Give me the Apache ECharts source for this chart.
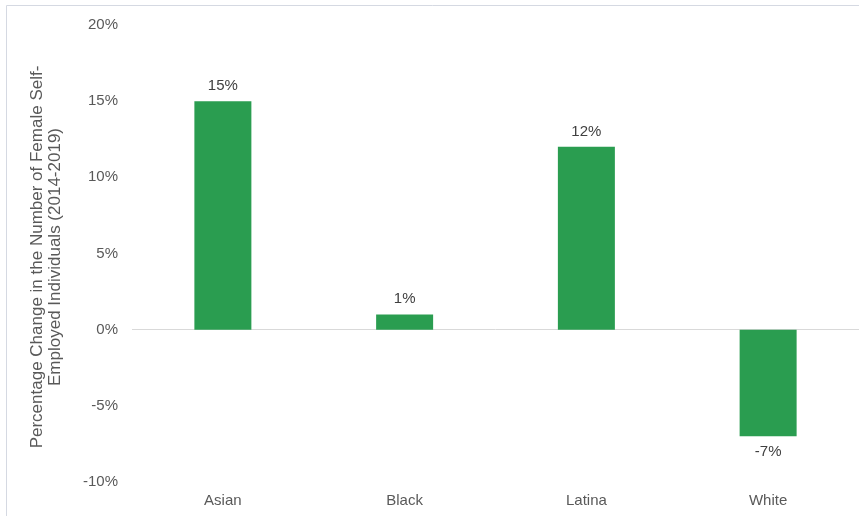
<!DOCTYPE html>
<html>
<head>
<meta charset="utf-8">
<script src="https://cdn.jsdelivr.net/npm/echarts@6/dist/echarts.min.js"></script>
<style>
  html, body { margin: 0; padding: 0; background: #fff; }
  #chart { width: 859px; height: 516px; }
</style>
</head>
<body>
<div id="chart"></div>
<script>
const groups = ['Asian', 'Black', 'Latina', 'White'];
const changePct = [15, 1, 12, -7];
const axisTitle = ['Percentage Change in the Number of Female Self-', 'Employed Individuals (2014-2019)'];

const chart = echarts.init(document.getElementById('chart'));
chart.setOption({
    animation: false,
    textStyle: { fontFamily: 'Liberation Sans, Arial, sans-serif' },
    grid: { left: 132, right: 0, top: 25, bottom: 34 },
    graphic: [
        // thin frame on the left and top edges
        { type: 'line', shape: { x1: 6.5, y1: 5.5, x2: 6.5, y2: 516 }, style: { stroke: '#d5d9e2', lineWidth: 1 } },
        { type: 'line', shape: { x1: 6.5, y1: 5.5, x2: 859, y2: 5.5 }, style: { stroke: '#d5d9e2', lineWidth: 1 } },
        {
            type: 'text',
            x: 46, y: 257,
            rotation: Math.PI / 2,
            style: {
                text: axisTitle.join('\n'),
                fill: '#595959',
                font: '17px Liberation Sans, Arial, sans-serif',
                align: 'center',
                verticalAlign: 'middle',
                lineHeight: 18
            }
        }
    ],
    xAxis: {
        type: 'category',
        data: groups,
        axisLine: { show: false },
        axisTick: { show: false },
        axisLabel: { color: '#595959', fontSize: 15, margin: 11 }
    },
    yAxis: {
        type: 'value',
        min: -10,
        max: 20,
        interval: 5,
        axisLine: { show: false },
        axisTick: { show: false },
        splitLine: { show: false },
        axisLabel: {
            color: '#595959',
            fontSize: 15,
            margin: 14,
            formatter: v => v + '%'
        }
    },
    series: [{
        type: 'bar',
        data: changePct,
        barWidth: 57,
        itemStyle: { color: '#2a9d50' },
        label: {
            show: true,
            position: 'outside',
            color: '#404040',
            fontSize: 15,
            distance: 8,
            formatter: p => p.value + '%'
        },
        markLine: {
            silent: true,
            symbol: 'none',
            label: { show: false },
            lineStyle: { color: '#d9d9d9', type: 'solid', width: 1 },
            data: [{ yAxis: 0 }],
            z: 1
        }
    }]
});
</script>
</body>
</html>
